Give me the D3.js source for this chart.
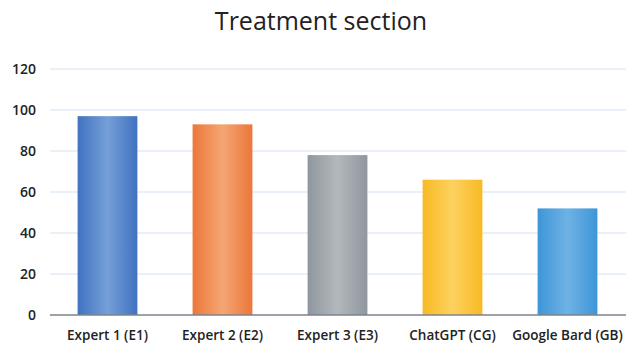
<!DOCTYPE html>
<html>
<head>
<meta charset="utf-8">
<script src="https://cdn.jsdelivr.net/npm/d3@7"></script>
<style>
  html, body { margin: 0; padding: 0; background: #fff; }
  svg { display: block; }
</style>
</head>
<body>
<svg id="chart" width="626" height="343"></svg>
<script>
// Scores per rater for the treatment section
const categories = ["Expert 1 (E1)", "Expert 2 (E2)", "Expert 3 (E3)", "ChatGPT (CG)", "Google Bard (GB)"];
const scores = [97, 93, 78, 66, 52];
const yTicks = [0, 20, 40, 60, 80, 100, 120];
const title = "Treatment section";

// Edge / centre colours for each bar's horizontal gradient
const barEdge   = ["#4072c0", "#ec7738", "#8f969d", "#f8ba24", "#3d96d7"];
const barCentre = ["#759fd8", "#f4a674", "#b3b8bc", "#fdd15e", "#6eb2e5"];

const svg = d3.select("#chart");
const W = 626, H = 343;
const margin = { top: 69, right: 1, bottom: 28, left: 50 };

const x = d3.scaleBand()
  .domain(categories)
  .range([margin.left, W - margin.right])
  .paddingInner(0.48)
  .paddingOuter(0.24);

const y = d3.scaleLinear()
  .domain([0, 120])
  .range([H - margin.bottom, margin.top]);

// Gradients
const defs = svg.append("defs");
categories.forEach((c, i) => {
  const g = defs.append("linearGradient")
    .attr("id", "grad" + i)
    .attr("x1", "0%").attr("x2", "100%")
    .attr("y1", "0%").attr("y2", "0%");
  g.append("stop").attr("offset", "0%").attr("stop-color", barEdge[i]);
  g.append("stop").attr("offset", "50%").attr("stop-color", barCentre[i]);
  g.append("stop").attr("offset", "100%").attr("stop-color", barEdge[i]);
});

// Title
svg.append("text")
  .attr("x", 321)
  .attr("y", 30)
  .attr("text-anchor", "middle")
  .attr("font-family", "'Open Sans', sans-serif")
  .attr("font-size", 25)
  .attr("fill", "#222")
  .text(title);

// Gridlines
svg.append("g")
  .selectAll("line")
  .data(yTicks.filter(t => t > 0))
  .join("line")
  .attr("x1", margin.left)
  .attr("x2", W)
  .attr("y1", d => y(d))
  .attr("y2", d => y(d))
  .attr("stroke", "#d5e1f1")
  .attr("stroke-width", 1.2);

// Y axis labels
const yAxis = d3.axisLeft(y).tickValues(yTicks).tickSize(0).tickPadding(0);
const yg = svg.append("g")
  .attr("transform", `translate(${margin.left - 14},0)`)
  .call(yAxis);
yg.select(".domain").remove();
yg.selectAll("text")
  .attr("font-family", "'Open Sans', sans-serif")
  .attr("font-size", 14)
  .attr("font-weight", 600)
  .attr("fill", "#222");

// Bars
svg.append("g")
  .selectAll("rect")
  .data(scores)
  .join("rect")
  .attr("x", (d, i) => x(categories[i]))
  .attr("width", x.bandwidth())
  .attr("y", d => y(d))
  .attr("height", d => y(0) - y(d))
  .attr("fill", (d, i) => `url(#grad${i})`);

// Baseline
svg.append("line")
  .attr("x1", margin.left)
  .attr("x2", W)
  .attr("y1", y(0))
  .attr("y2", y(0))
  .attr("stroke", "#7b838c")
  .attr("stroke-width", 1.5);

// X axis labels
const xAxis = d3.axisBottom(x).tickSize(0).tickPadding(0);
const xg = svg.append("g")
  .attr("transform", `translate(0,${y(0) + 15})`)
  .call(xAxis);
xg.select(".domain").remove();
xg.selectAll("text")
  .attr("font-family", "'Open Sans', sans-serif")
  .attr("font-size", 13.5)
  .attr("font-weight", 600)
  .attr("fill", "#222");
</script>
</body>
</html>
